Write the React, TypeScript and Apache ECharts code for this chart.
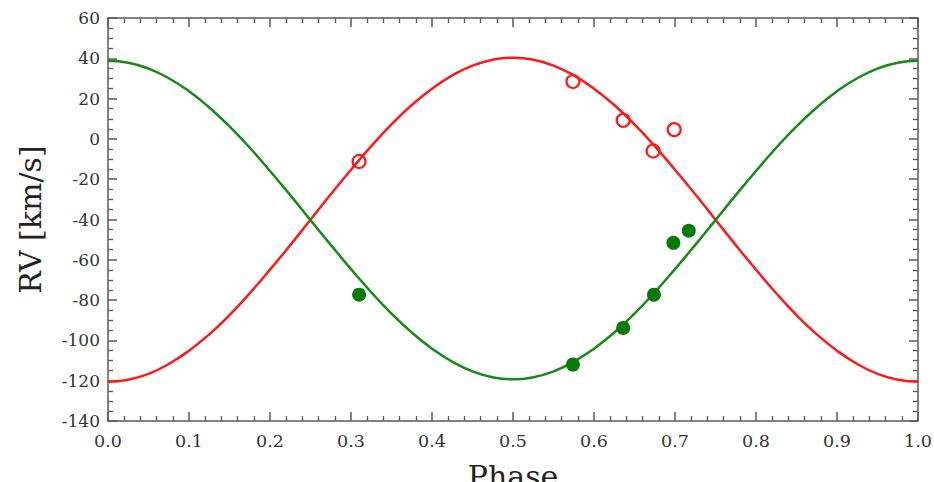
import React, { useEffect, useRef } from "react";
import * as echarts from "echarts";

const curvePhase = [0, 0.025, 0.05, 0.075, 0.1, 0.125, 0.15, 0.175, 0.2, 0.225, 0.25, 0.275, 0.3, 0.325, 0.35, 0.375, 0.4, 0.425, 0.45, 0.475, 0.5,
  0.525, 0.55, 0.575, 0.6, 0.625, 0.65, 0.675, 0.7, 0.725, 0.75, 0.775, 0.8, 0.825, 0.85, 0.875, 0.9, 0.925, 0.95, 0.975, 1.0];
const redCurve = [-120.5, -119.5, -116.6, -111.7, -105.1, -97.0, -87.4, -76.6, -64.9, -52.7, -40.1, -27.5, -15.3, -3.6, 7.2, 16.8, 24.9, 31.5, 36.4, 39.3, 40.3,
  39.3, 36.4, 31.5, 24.9, 16.8, 7.2, -3.6, -15.3, -27.5, -40.1, -52.7, -64.9, -76.6, -87.4, -97.0, -105.1, -111.7, -116.6, -119.5, -120.5];
const greenCurve = [38.75, 37.8, 34.9, 30.1, 23.7, 15.6, 6.2, -4.4, -15.9, -27.9, -40.3, -52.6, -64.6, -76.1, -86.7, -96.1, -104.1, -110.6, -115.4, -118.3, -119.3,
  -118.3, -115.4, -110.6, -104.1, -96.1, -86.7, -76.1, -64.6, -52.6, -40.3, -27.9, -15.9, -4.4, 6.2, 15.6, 23.7, 30.1, 34.9, 37.8, 38.75];

const redPhase = [0.31, 0.574, 0.636, 0.673, 0.699];
const redRV = [-11.2, 28.5, 9.2, -6, 4.6];
const greenPhase = [0.31, 0.574, 0.636, 0.674, 0.698, 0.717];
const greenRV = [-77.3, -112, -93.8, -77.3, -51.6, -45.6];

const xTicks = [0, 0.1, 0.2, 0.3, 0.4, 0.5, 0.6, 0.7, 0.8, 0.9, 1.0];

const FONT = "DejaVu Serif";
const AXIS_COLOR = "#5a5a5a";

export default function App() {
  const ref = useRef<HTMLDivElement>(null);
  useEffect(() => {
    const chart = echarts.init(ref.current!, null, { renderer: "svg" });
    const tickCommon = {
      axisLine: { show: true, onZero: false, lineStyle: { color: AXIS_COLOR, width: 1.5 } },
      axisTick: { show: true, inside: true, length: 9, lineStyle: { color: AXIS_COLOR, width: 1.5 } },
      minorTick: { show: true, length: 5, lineStyle: { color: AXIS_COLOR, width: 1.3 } },
      splitLine: { show: false },
    };
    const xBase = {
      type: "value" as const,
      min: 0,
      max: 1,
      interval: 0.1,
      ...tickCommon,
      minorTick: { ...tickCommon.minorTick, splitNumber: 5 },
    };
    const yBase = {
      type: "value" as const,
      min: -140,
      max: 60,
      interval: 20,
      ...tickCommon,
      minorTick: { ...tickCommon.minorTick, splitNumber: 4 },
    };
    const zip = (a: number[], b: number[]) => a.map((v, i) => [v, b[i]]);
    chart.setOption({
      animation: false,
      backgroundColor: "#fff",
      grid: { left: 108, right: 16, top: 18, bottom: 61, containLabel: false, outerBoundsMode: "none" },
      xAxis: [
        {
          ...xBase,
          position: "bottom",
          name: "Phase",
          nameLocation: "middle",
          nameGap: 40,
          nameTextStyle: { fontFamily: FONT, fontSize: 30, color: "#222" },
          axisLabel: {
            fontFamily: FONT,
            fontSize: 17.5,
            color: "#333",
            margin: 11,
            formatter: (v: number) => (xTicks.some((t) => Math.abs(t - v) < 1e-9) ? v.toFixed(1) : ""),
          },
        },
        { ...xBase, position: "top", axisLabel: { show: false } },
      ],
      yAxis: [
        {
          ...yBase,
          position: "left",
          name: "RV [km/s]",
          nameLocation: "middle",
          nameGap: 63,
          nameTextStyle: { fontFamily: FONT, fontSize: 30, color: "#222" },
          axisLabel: { fontFamily: FONT, fontSize: 17, color: "#333", margin: 8 },
        },
        { ...yBase, position: "right", axisLabel: { show: false } },
      ],
      series: [
        {
          type: "line",
          data: zip(curvePhase, redCurve),
          smooth: true,
          symbol: "none",
          lineStyle: { color: "#ff1a1a", width: 2.5 },
          z: 2,
        },
        {
          type: "line",
          data: zip(curvePhase, greenCurve),
          smooth: true,
          symbol: "none",
          lineStyle: { color: "#168a16", width: 2.5 },
          z: 2,
        },
        {
          type: "scatter",
          data: zip(redPhase, redRV),
          symbol: "circle",
          symbolSize: 13,
          itemStyle: { color: "rgba(255,255,255,0)", borderColor: "#ff1a1a", borderWidth: 2.2, opacity: 1 },
          z: 3,
        },
        {
          type: "scatter",
          data: zip(greenPhase, greenRV),
          symbol: "circle",
          symbolSize: 14,
          itemStyle: { color: "#087a08", opacity: 1 },
          z: 3,
        },
      ],
    });
    return () => chart.dispose();
  }, []);
  return <div ref={ref} style={{ width: 934, height: 482, position: "absolute", left: 0, top: 0 }} />;
}
